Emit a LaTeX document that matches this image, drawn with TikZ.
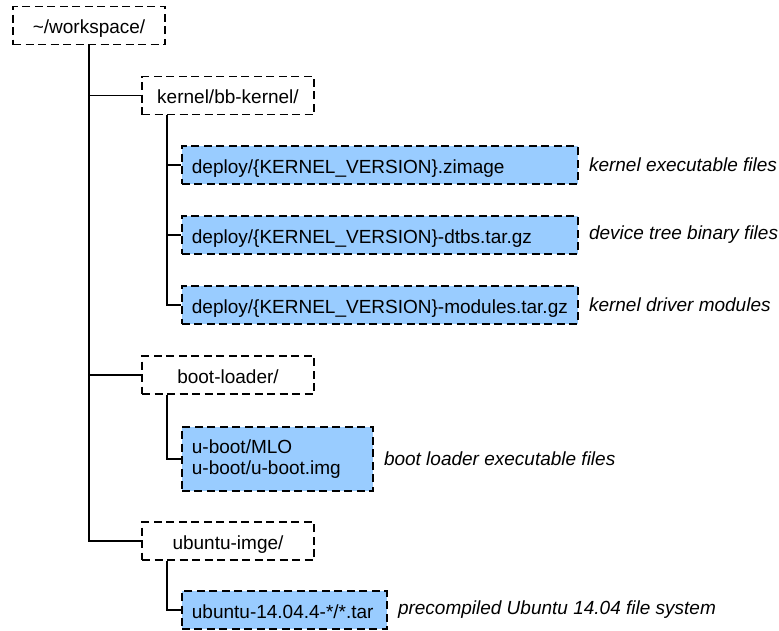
\documentclass[tikz,border=0pt]{standalone}
\usepackage{fontspec}
\setmainfont{Liberation Sans}
\usetikzlibrary{positioning}
\definecolor{filefill}{HTML}{99CCFF}
\tikzset{
  x=1pt, y=-1pt,
  box/.style={draw=black, line width=1.8pt, dash pattern=on 8pt off 4.5pt,
    font=\fontsize{19}{21}\selectfont, minimum height=38pt, inner sep=0pt},
  oneline/.style={text height=17pt, text depth=1pt},
  dirbox/.style={box, oneline, minimum width=172pt, align=center},
  filebox/.style={box, fill=filefill, anchor=west, inner xsep=10pt, align=left},
  note/.style={font=\fontsize{19}{22}\selectfont\itshape, inner sep=0pt, anchor=west},
  tree/.style={line width=1.8pt}
}
\begin{document}
\begin{tikzpicture}
\useasboundingbox (0,0) rectangle (779,630);

% directory boxes
\node[box, oneline, minimum width=152pt] (ws) at (89,25.5) {\textasciitilde/workspace/};
\node[dirbox] (kern) at (228,95.5) {kernel/bb-kernel/};
\node[dirbox] (boot) at (228,375) {boot-loader/};
\node[dirbox] (ubu)  at (228,541) {ubuntu-imge/};

% file boxes
\node[filebox, oneline, text width=376pt] (zimg) at (181,165) {deploy/\{KERNEL\_VERSION\}.zimage};
\node[filebox, oneline, text width=376pt] (dtbs) at (181,235) {deploy/\{KERNEL\_VERSION\}-dtbs.tar.gz};
\node[filebox, oneline, text width=376pt] (mods) at (181,305) {deploy/\{KERNEL\_VERSION\}-modules.tar.gz};
\node[filebox, text width=171pt, minimum height=64pt] (uboot) at (181,459)
  {u-boot/MLO\\u-boot/u-boot.img};
\node[filebox, oneline, text width=185pt] (rootfs) at (181,610) {ubuntu-14.04.4-*/*.tar};

% descriptions
\node[note, right=10pt of zimg]   {kernel executable files};
\node[note, right=10pt of dtbs]   {device tree binary files};
\node[note, right=10pt of mods]   {kernel driver modules};
\node[note, right=10pt of uboot]  {boot loader executable files};
\node[note, right=10pt of rootfs] {precompiled Ubuntu 14.04 file system};

% tree connectors
\coordinate (kt) at ([xshift=26pt]kern.south west);
\coordinate (bt) at ([xshift=26pt]boot.south west);
\coordinate (ut) at ([xshift=26pt]ubu.south west);
\draw[tree] (ws.south) |- (ubu.west);
\draw[tree] (ws.south |- kern.west) -- (kern.west);
\draw[tree] (ws.south |- boot.west) -- (boot.west);
\draw[tree] (kt) |- (mods.west);
\draw[tree] (kt |- zimg.west) -- (zimg.west);
\draw[tree] (kt |- dtbs.west) -- (dtbs.west);
\draw[tree] (bt) |- (uboot.west);
\draw[tree] (ut) |- (rootfs.west);
\end{tikzpicture}
\end{document}
